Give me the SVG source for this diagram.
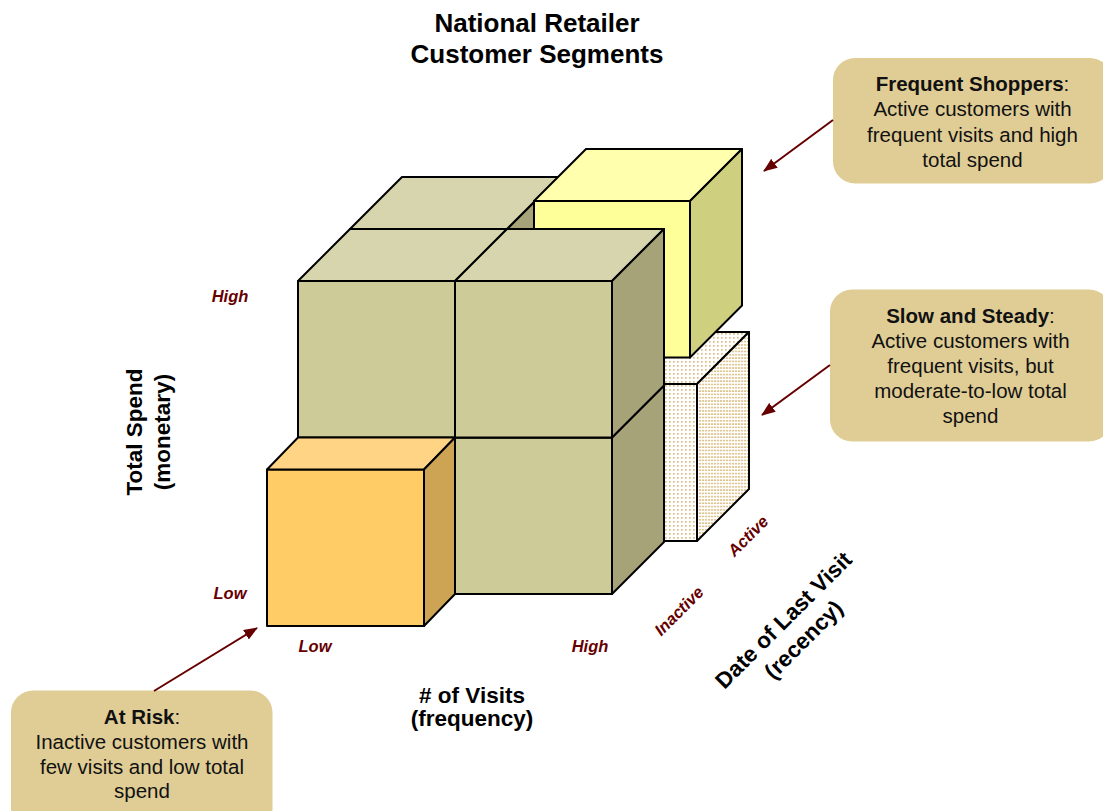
<svg xmlns="http://www.w3.org/2000/svg" width="1103" height="811" viewBox="0 0 1103 811">
<style>
.f{stroke:#000;stroke-width:2;stroke-linejoin:round}
.gF{fill:#CDCC99}.gT{fill:#D7D5AD}.gS{fill:#A7A378}
.yF{fill:#FFFF99}.yT{fill:#FFFFAE}.yS{fill:#CFCF80}
.oF{fill:#FFCC66}.oT{fill:#FFD585}.oS{fill:#CCA453}
.dF{fill:url(#dots)}.dS{fill:url(#dash)}
.title{font-family:"Liberation Sans",Arial,sans-serif;font-weight:bold;font-size:26px;fill:#000;text-anchor:middle}
.axis{font-family:"Liberation Sans",Arial,sans-serif;font-weight:bold;font-size:22.5px;fill:#000;text-anchor:middle}
.tick{font-family:"Liberation Sans",Arial,sans-serif;font-weight:bold;font-style:italic;font-size:16.5px;fill:#660000;text-anchor:middle}
.box{fill:#E0CD95}
.ct{font-family:"Liberation Sans",Arial,sans-serif;font-size:20.5px;fill:#111;text-anchor:middle}
.ct .b{font-weight:bold}
.arr{stroke:#660000;stroke-width:2;fill:none;marker-end:url(#ah)}
</style>
<defs>
<pattern id="dots" width="4" height="4" patternUnits="userSpaceOnUse">
<rect width="4" height="4" fill="#fff"/>
<rect x="1" y="1" width="1.7" height="1.7" fill="#D9BE84"/>
</pattern>
<pattern id="dash" width="3" height="3.3" patternUnits="userSpaceOnUse">
<rect width="3" height="3.3" fill="#fff"/>
<rect x="0" y="1" width="2.2" height="1.4" fill="#D9BE84"/>
</pattern>
<marker id="ah" markerWidth="14" markerHeight="11" refX="13" refY="5.5" orient="auto" markerUnits="userSpaceOnUse">
<path d="M0,0 L14,5.5 L0,11 Z" fill="#660000"/>
</marker>
</defs>

<g id="title">
<text class="title" x="537" y="31.5">National Retailer</text>
<text class="title" x="537" y="63">Customer Segments</text>
</g>

<g id="cube-back-high-low">
<polygon class="f gF" points="350,229 507,229 507,385.5 350,385.5"/>
<polygon class="f gS" points="507,229 559,177 559,333.5 507,385.5"/>
<polygon class="f gT" points="350,229 402,177 559,177 507,229"/>
</g>

<g id="cube-slow-and-steady">
<polygon class="f dF" points="540,384 697,384 697,541 540,541"/>
<polygon class="f dF" points="540,384 592,332 749,332 697,384"/>
<polygon class="f dS" points="697,384 749,332 749,489 697,541"/>
</g>

<g id="cube-frequent-shoppers">
<polygon class="f yF" points="534,201 690,201 690,357.5 534,357.5"/>
<polygon class="f yT" points="534,201 586,149 742,149 690,201"/>
<polygon class="f yS" points="690,201 742,149 742,305.5 690,357.5"/>
</g>

<g id="cube-front-low-high">
<polygon class="f gF" points="455,437.5 612,437.5 612,594 455,594"/>
<polygon class="f gT" points="455,437.5 507,385.5 664,385.5 612,437.5"/>
<polygon class="f gS" points="612,437.5 664,385.5 664,542 612,594"/>
</g>

<g id="cube-front-high-low">
<polygon class="f gF" points="298,281 455,281 455,437.5 298,437.5"/>
<polygon class="f gT" points="298,281 350,229 507,229 455,281"/>
</g>

<g id="cube-front-high-high">
<polygon class="f gF" points="455,281 612,281 612,437.5 455,437.5"/>
<polygon class="f gT" points="455,281 507,229 664,229 612,281"/>
<polygon class="f gS" points="612,281 664,229 664,385.5 612,437.5"/>
</g>

<g id="cube-at-risk">
<polygon class="f oF" points="267,469.5 424,469.5 424,626 267,626"/>
<polygon class="f oT" points="267,469.5 298,437.5 455,437.5 424,469.5"/>
<polygon class="f oS" points="424,469.5 455,437.5 455,594 424,626"/>
</g>

<g id="axis-labels">
<text class="tick" x="230" y="301.5">High</text>
<text class="tick" x="230" y="598.5">Low</text>
<text class="tick" x="315" y="651.5">Low</text>
<text class="tick" x="590" y="651.5">High</text>
<text class="tick" transform="translate(683,615) rotate(-45)">Inactive</text>
<text class="tick" transform="translate(752,540) rotate(-45)">Active</text>
<text class="axis" x="472" y="702.5"># of Visits</text>
<text class="axis" x="472" y="726">(frequency)</text>
<text class="axis" transform="translate(141.5,432) rotate(-90)">Total Spend</text>
<text class="axis" transform="translate(169.5,432) rotate(-90)">(monetary)</text>
<text class="axis" transform="translate(789,625.5) rotate(-45)">Date of Last Visit</text>
<text class="axis" transform="translate(809,645) rotate(-45)">(recency)</text>
</g>

<g id="callout-frequent-shoppers">
<rect class="box" x="833" y="58" width="279" height="125.5" rx="22"/>
<text class="ct" x="972.5" y="91"><tspan class="b">Frequent Shoppers</tspan>:</text>
<text class="ct" x="972.5" y="116">Active customers with</text>
<text class="ct" x="972.5" y="141.5">frequent visits and high</text>
<text class="ct" x="972.5" y="166.5">total spend</text>
</g>

<g id="callout-slow-and-steady">
<rect class="box" x="830" y="289.5" width="281" height="152" rx="22"/>
<text class="ct" x="970.5" y="323"><tspan class="b">Slow and Steady</tspan>:</text>
<text class="ct" x="970.5" y="348">Active customers with</text>
<text class="ct" x="970.5" y="373">frequent visits, but</text>
<text class="ct" x="970.5" y="398">moderate-to-low total</text>
<text class="ct" x="970.5" y="422.5">spend</text>
</g>

<g id="callout-at-risk">
<rect class="box" x="11" y="690.5" width="261.5" height="140" rx="22"/>
<text class="ct" x="142" y="724"><tspan class="b">At Risk</tspan>:</text>
<text class="ct" x="142" y="748.5">Inactive customers with</text>
<text class="ct" x="142" y="773.5">few visits and low total</text>
<text class="ct" x="142" y="798">spend</text>
</g>

<g id="connectors">
<line class="arr" x1="833" y1="120" x2="764" y2="171"/>
<line class="arr" x1="830" y1="365" x2="762" y2="415"/>
<line class="arr" x1="154" y1="691" x2="257" y2="628"/>
</g>
</svg>
